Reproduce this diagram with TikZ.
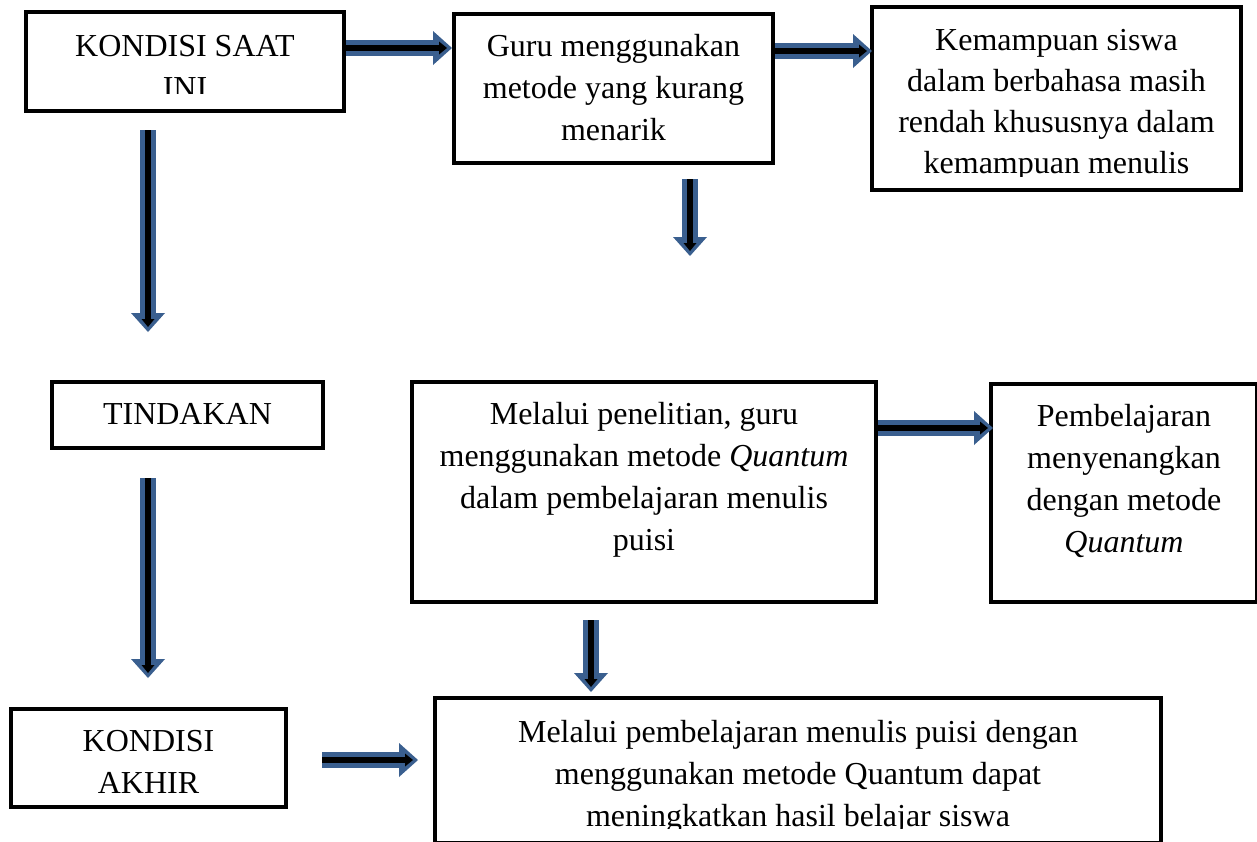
\documentclass[tikz,border=0pt]{standalone}
\usepackage{fontspec}
\setmainfont{Liberation Serif}
\usetikzlibrary{arrows.meta,calc}
\definecolor{arrowblue}{RGB}{58,95,143}
\newcommand{\boxtxt}[3]{\parbox[b][#2][t]{#1}{\centering\vspace*{13pt}\strut #3}}
\begin{document}
\begin{tikzpicture}[x=1pt,y=-1pt,
  box/.style={draw, line width=4pt, inner sep=0pt, anchor=north west, font=\fontsize{32}{42}\selectfont},
  frame/.style={draw, line width=4pt},
  blk/.style={preaction={draw=arrowblue, line width=16pt, shorten >=0pt, -{Triangle[width=34pt,length=19pt,line width=0pt]}},
              draw=black, line width=6pt, shorten >=5pt, -{Triangle[width=13pt,length=8pt,line width=0pt]}}]
\useasboundingbox (0,0) rectangle (1257,841);

% boxes
\begin{scope}
  \clip (0,0) rectangle (1257,93);
  \node[box, draw=none] (b1) at (26,12) {\boxtxt{314pt}{95pt}{KONDISI SAAT\\INI}};
\end{scope}
\draw[frame] (b1.north west) rectangle (b1.south east);

\node[box] (b2) at (452,12) {\boxtxt{319pt}{149pt}{Guru menggunakan\\metode yang kurang\\menarik}};

\begin{scope}
  \clip (0,0) rectangle (1257,176);
  \node[box, draw=none, font=\fontsize{32}{41}\selectfont] (b3) at (872,7) {\boxtxt{365pt}{179pt}{Kemampuan siswa\\dalam berbahasa masih\\rendah khususnya dalam\\kemampuan menulis}};
\end{scope}
\draw[frame] (b3.north west) rectangle (b3.south east);

\node[box] (b4) at (50,380) {\boxtxt{271pt}{66pt}{TINDAKAN}};

\node[box] (b5) at (410,380) {\boxtxt{464pt}{220pt}{Melalui penelitian, guru\\menggunakan metode \textit{Quantum}\\dalam pembelajaran menulis\\puisi}};

\node[box] (b6) at (989,382) {\boxtxt{266pt}{218pt}{Pembelajaran\\menyenangkan\\dengan metode\\\textit{Quantum}}};

\node[box] (b7) at (9,707) {\boxtxt{275pt}{98pt}{KONDISI\\AKHIR}};

\begin{scope}
  \clip (0,0) rectangle (1257,828);
  \node[box, draw=none] (b8) at (435,698) {\boxtxt{722pt}{141pt}{Melalui pembelajaran menulis puisi dengan\\menggunakan metode Quantum dapat\\meningkatkan hasil belajar siswa}};
\end{scope}
\draw[frame] (b8.north west) rectangle (b8.south east);

% connectors
\coordinate (a1s) at ($(b1.north east)+(2,36)$);
\draw[blk] (a1s) -- (a1s -| b2.west);

\coordinate (a2s) at ($(b2.north east)+(0,39)$);
\draw[blk] (a2s) -- (a2s -| b3.west);

\coordinate (a3s) at ($(b1.south west)+(122,19)$);
\coordinate (a3e) at ($(b4.north west)+(98,-48)$);
\draw[blk] (a3s) -- (a3e);

\coordinate (a4s) at ($(b2.south west)+(238,14)$);
\coordinate (a4e) at ($(a4s)+(0,77)$);
\draw[blk] (a4s) -- (a4e);

\coordinate (a5s) at ($(b4.south west)+(98,28)$);
\coordinate (a5e) at ($(b7.north west)+(139,-29)$);
\draw[blk] (a5s) -- (a5e);

\coordinate (a6s) at ($(b5.south west)+(181,16)$);
\coordinate (a6e) at ($(a6s |- b8.north)+(0,-6)$);
\draw[blk] (a6s) -- (a6e);

\coordinate (a7s) at ($(b5.north east)+(0,48)$);
\draw[blk] (a7s) -- ($(a7s -| b6.west)+(4,0)$);

\coordinate (a8s) at ($(b7.north east)+(34,53)$);
\draw[blk] (a8s) -- ($(a8s -| b8.west)+(-17,0)$);
\end{tikzpicture}
\end{document}
